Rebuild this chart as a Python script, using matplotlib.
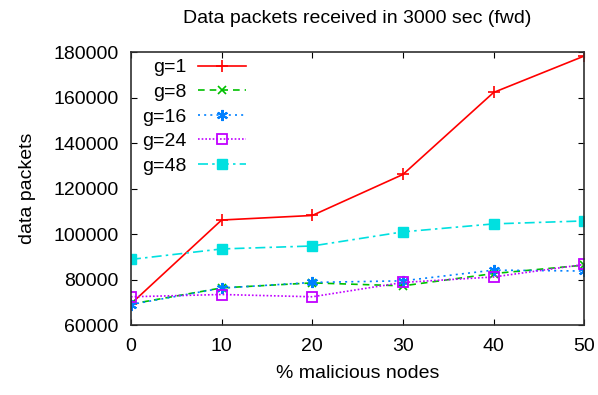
import matplotlib
matplotlib.use("Agg")
import matplotlib.pyplot as plt

plt.rcParams['font.family'] = ['Liberation Sans', 'DejaVu Sans']

malicious = [0, 10, 20, 30, 40, 50]
g1 = [69500, 106300, 108300, 126300, 162300, 178300]
g8 = [69400, 76500, 78700, 77400, 82800, 86500]
g16 = [69200, 76400, 78900, 79600, 84300, 83900]
g24 = [72600, 73600, 72600, 78900, 81300, 86800]
g48 = [89000, 93600, 94900, 101100, 104600, 105900]

fig = plt.figure(figsize=(5.98, 3.95), dpi=100)
ax = fig.add_axes([0.219, 0.176, 0.758, 0.692])

ax.plot(malicious, g1, color='#ff0000', lw=1.2, ls='-', marker='+', ms=8, mew=1.2, label='g=1')
ax.plot(malicious, g8, color='#00c000', lw=1.2, ls=(0, (4, 3)), marker='x', ms=6, mew=1.2, label='g=8')
ax.plot(malicious, g16, color='#0080ff', lw=1.2, ls=(0, (1.2, 2.5)), marker=(6, 2, 0), ms=8, mew=1.5, label='g=16')
ax.plot(malicious, g24, color='#c000ff', lw=1.2, ls=(0, (1, 1.2)), marker='s', ms=7, mew=1.3,
        mfc='none', label='g=24')
ax.plot(malicious, g48, color='#00e0e0', lw=1.2, ls=(0, (6, 2.5, 1.5, 2.5)), marker='s', ms=7,
        label='g=48')

ax.set_xlim(0, 50)
ax.set_ylim(60000, 180000)
ax.set_xticks(malicious)
ax.set_yticks(range(60000, 180001, 20000))
ax.tick_params(direction='in', top=True, right=True, labelsize=14, length=4, pad=9)
for s in ax.spines.values():
    s.set_linewidth(1.2)
    s.set_color('#303030')

ax.set_xlabel('% malicious nodes', fontsize=14, labelpad=7)
ax.set_ylabel('data packets', fontsize=14, labelpad=12)
fig.text(0.598, 0.953, 'Data packets received in 3000 sec (fwd)', ha='center', va='center', fontsize=14)

leg = ax.legend(loc='upper left', frameon=False, markerfirst=False, fontsize=14,
                handlelength=2.5, handletextpad=0.6, labelspacing=0.36, borderaxespad=0.0,
                borderpad=0.2, bbox_to_anchor=(0.015, 0.99))
for t in leg.get_texts():
    t.set_ha('right')
leg._legend_box.align = 'right'

fig.savefig('out.png', dpi=100)
